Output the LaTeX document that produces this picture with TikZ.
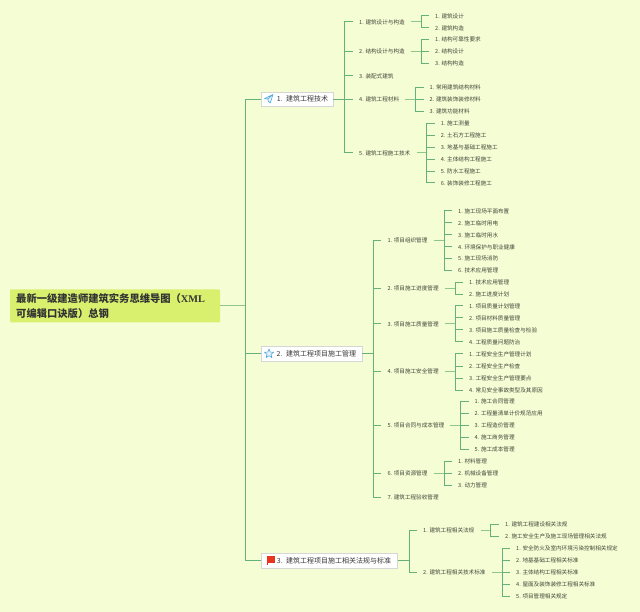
\documentclass[tikz,border=0pt]{standalone}
\usepackage{fontspec}
\setmainfont{Noto Sans CJK SC}
\newfontfamily\latinbold{Liberation Serif}
\definecolor{bgc}{HTML}{F4FDD4}
\definecolor{rootc}{HTML}{D9F06F}
\definecolor{linec}{HTML}{66B07B}
\definecolor{lightlinec}{HTML}{8FC68C}
\definecolor{txtc}{HTML}{45453A}
\definecolor{iconc}{HTML}{4FA8E0}
\definecolor{flagc}{HTML}{E8361E}
\newcounter{kidno}
\tikzset{
  conn/.style={draw=linec,line width=1pt},
  soft/.style={draw=lightlinec,line width=1pt},
  item/.style={font=\fontsize{5.6}{7}\selectfont,text=txtc,inner xsep=6pt,inner ysep=1pt,anchor=west},
  branch/.style={draw=black!16,fill=white,font=\fontsize{7}{9}\selectfont,text=black!78,inner sep=0pt,minimum height=14.6pt,anchor=west,align=left},
  roottext/.style={font=\fontsize{10.3}{15}\selectfont\bfseries,text=black!80,anchor=west,inner sep=0pt},
  icon/.style={draw=iconc,fill=iconc!12,line width=0.6pt,line join=round}
}
% leaf hanging off junction #1 at x=#2, y=#3 with text #4
\newcommand{\kid}[4]{\stepcounter{kidno}%
  \node[item] (k\thekidno) at (#2,#3) {#4};
  \draw[conn] (#1) |- (k\thekidno.west);}
\begin{document}
\begin{tikzpicture}[x=1pt,y=-1pt]
\useasboundingbox (0,0) rectangle (640,612);
\fill[bgc] (0,0) rectangle (640,612);
% root
\node[fill=rootc,rounded corners=1pt,minimum width=210pt,minimum height=33pt,inner sep=0pt] (root) at (115,306) {};
\node[roottext] (rootA) at (16,299) {最新一级建造师建筑实务思维导图（{\latinbold XML}};
\node[roottext] (rootB) at (16,314) {可编辑口诀版）总钢};
\coordinate (trunk) at (245,306);
\draw[soft] (root.east) -- (trunk);
% main branches
\node[branch,text width=72pt] (b1) at (261,99.3) {\hspace*{15.7pt}1. 建筑工程技术};
\node[branch,text width=101.5pt] (b2) at (260.5,354) {\hspace*{16pt}2. 建筑工程项目施工管理};
\node[branch,text width=136.5pt] (b3) at (260.7,560.5) {\hspace*{16pt}3. 建筑工程项目施工相关法规与标准};
\draw[conn] (trunk) |- (b1.west);
\draw[conn] (trunk) |- (b2.west);
\draw[conn] (trunk) |- (b3.west);
% icons
\draw[icon] (273,94.5) -- (267.8,99) -- (268.3,101.2) -- (270.2,103) -- cycle (273,94.5) -- (267.8,99) -- (264.5,98.6) -- cycle;
\draw[icon] (269,349) -- (270.2,352.1) -- (273.6,352.2) -- (271,354.3) -- (271.9,357.6) -- (269,355.7) -- (266.1,357.6) -- (267,354.3) -- (264.4,352.2) -- (267.8,352.1) -- cycle;
\fill[flagc] (267,556) rectangle (274.5,562.5);
\draw[flagc,line width=0.6pt] (267.3,556) -- (267.3,565);
% branch 1
\coordinate (v1) at (344.3,99.3);
\draw[conn] (b1.east) -- (v1);
\node[item] (a1) at (353,22) {1. 建筑设计与构造};
\node[item] (a2) at (353,51.5) {2. 结构设计与构造};
\node[item] (a3) at (353,76) {3. 装配式建筑};
\node[item] (a4) at (353,99.5) {4. 建筑工程材料};
\node[item] (a5) at (353,153) {5. 建筑工程施工技术};
\foreach \n in {a1,a2,a3,a4,a5} \draw[conn] (v1) |- (\n.west);
\coordinate (j1) at (421,22); \draw[soft] (a1.east) -- (j1);
\kid{j1}{429}{16}{1. 建筑设计}
\kid{j1}{429}{28}{2. 建筑构造}
\coordinate (j2) at (421,51.5); \draw[soft] (a2.east) -- (j2);
\kid{j2}{429}{39.5}{1. 结构可靠性要求}
\kid{j2}{429}{51.5}{2. 结构设计}
\kid{j2}{429}{63.5}{3. 结构构造}
\coordinate (j4) at (415.3,99.5); \draw[soft] (a4.east) -- (j4);
\kid{j4}{423.5}{87.7}{1. 常用建筑结构材料}
\kid{j4}{423.5}{99.5}{2. 建筑装饰装修材料}
\kid{j4}{423.5}{111.5}{3. 建筑功能材料}
\coordinate (j5) at (426.3,153); \draw[soft] (a5.east) -- (j5);
\kid{j5}{434.7}{123.5}{1. 施工测量}
\kid{j5}{434.7}{135.5}{2. 土石方工程施工}
\kid{j5}{434.7}{147.5}{3. 地基与基础工程施工}
\kid{j5}{434.7}{159.5}{4. 主体结构工程施工}
\kid{j5}{434.7}{171.5}{5. 防水工程施工}
\kid{j5}{434.7}{183}{6. 装饰装修工程施工}
% branch 2
\coordinate (v2) at (373.3,354);
\draw[conn] (b2.east) -- (v2);
\node[item] (c1) at (381.3,240.7) {1. 项目组织管理};
\node[item] (c2) at (381.3,288.3) {2. 项目施工进度管理};
\node[item] (c3) at (381.3,324) {3. 项目施工质量管理};
\node[item] (c4) at (381.3,371.7) {4. 项目施工安全管理};
\node[item] (c5) at (381.3,425) {5. 项目合同与成本管理};
\node[item] (c6) at (381.3,473) {6. 项目资源管理};
\node[item] (c7) at (381.3,497) {7. 建筑工程验收管理};
\foreach \n in {c1,c2,c3,c4,c5,c6,c7} \draw[conn] (v2) |- (\n.west);
\coordinate (m1) at (444,240.7); \draw[soft] (c1.east) -- (m1);
\kid{m1}{452}{211}{1. 施工现场平面布置}
\kid{m1}{452}{223}{2. 施工临时用电}
\kid{m1}{452}{235}{3. 施工临时用水}
\kid{m1}{452}{247}{4. 环境保护与职业健康}
\kid{m1}{452}{258.7}{5. 施工现场消防}
\kid{m1}{452}{270.7}{6. 技术应用管理}
\coordinate (m2) at (455.3,288.3); \draw[soft] (c2.east) -- (m2);
\kid{m2}{463}{282.5}{1. 技术应用管理}
\kid{m2}{463}{294.5}{2. 施工进度计划}
\coordinate (m3) at (455.3,324); \draw[soft] (c3.east) -- (m3);
\kid{m3}{463}{306}{1. 项目质量计划管理}
\kid{m3}{463}{318}{2. 项目材料质量管理}
\kid{m3}{463}{330}{3. 项目施工质量检查与检验}
\kid{m3}{463}{342}{4. 工程质量问题防治}
\coordinate (m4) at (455.3,371.7); \draw[soft] (c4.east) -- (m4);
\kid{m4}{463}{354}{1. 工程安全生产管理计划}
\kid{m4}{463}{366}{2. 工程安全生产检查}
\kid{m4}{463}{378}{3. 工程安全生产管理要点}
\kid{m4}{463}{390}{4. 常见安全事故类型及其原因}
\coordinate (m5) at (460.3,425); \draw[soft] (c5.east) -- (m5);
\kid{m5}{468.5}{401.5}{1. 施工合同管理}
\kid{m5}{468.5}{413.5}{2. 工程量清单计价规范应用}
\kid{m5}{468.5}{425}{3. 工程造价管理}
\kid{m5}{468.5}{437}{4. 施工商务管理}
\kid{m5}{468.5}{449}{5. 施工成本管理}
\coordinate (m6) at (444,473); \draw[soft] (c6.east) -- (m6);
\kid{m6}{452}{461}{1. 材料管理}
\kid{m6}{452}{473}{2. 机械设备管理}
\kid{m6}{452}{485}{3. 动力管理}
% branch 3
\coordinate (v3) at (409,560.5);
\draw[conn] (b3.east) -- (v3);
\node[item] (d1) at (417,530.5) {1. 建筑工程相关法规};
\node[item] (d2) at (417,572.5) {2. 建筑工程相关技术标准};
\foreach \n in {d1,d2} \draw[conn] (v3) |- (\n.west);
\coordinate (n1) at (490.7,530.5); \draw[soft] (d1.east) -- (n1);
\kid{n1}{499}{524.7}{1. 建筑工程建设相关法规}
\kid{n1}{499}{536.7}{2. 施工安全生产及施工现场管理相关法规}
\coordinate (n2) at (502,572.5); \draw[soft] (d2.east) -- (n2);
\kid{n2}{510}{548.5}{1. 安全防火及室内环境污染控制相关规定}
\kid{n2}{510}{560.5}{2. 地基基础工程相关标准}
\kid{n2}{510}{572.5}{3. 主体结构工程相关标准}
\kid{n2}{510}{584.5}{4. 屋面及装饰装修工程相关标准}
\kid{n2}{510}{596.5}{5. 项目管理相关规定}
\end{tikzpicture}
\end{document}
